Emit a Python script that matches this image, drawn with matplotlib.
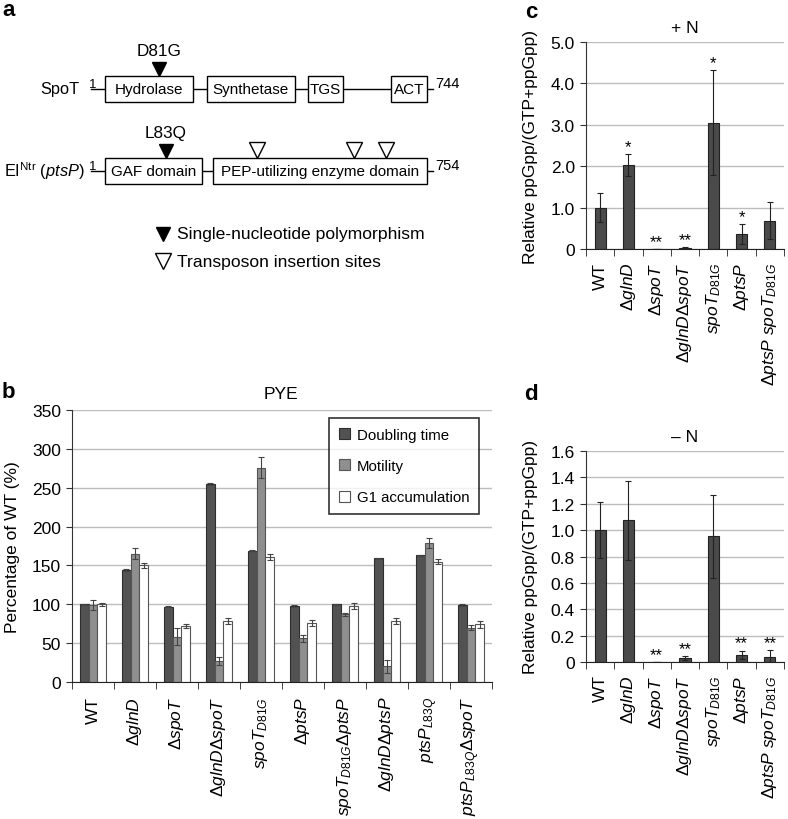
import numpy as np
import matplotlib
matplotlib.use('Agg')
import matplotlib.pyplot as plt
from matplotlib.patches import Rectangle

plt.rcParams['font.family'] = ['Liberation Sans', 'DejaVu Sans']
plt.rcParams['mathtext.fontset'] = 'custom'
plt.rcParams['mathtext.rm'] = 'Liberation Sans'
plt.rcParams['mathtext.it'] = 'Liberation Sans:italic'
plt.rcParams['mathtext.bf'] = 'Liberation Sans:bold'

# ---- panel a: domain schematic (positions in schematic residue units)
spot_len = 744
spot_domains = [('Hydrolase', 30, 222), ('Synthetase', 252, 444), ('TGS', 472, 548), ('ACT', 652, 732)]
spot_snp = [(148, 'D81G')]
ptsp_len = 754
ptsp_domains = [('GAF domain', 31, 245), ('PEP-utilizing enzyme domain', 269, 741)]
ptsp_snp = [(165, 'L83Q')]
ptsp_tn = [366, 580, 650]

# ---- panel b: PYE phenotypes (% of WT)
strains_b = ['WT', r'$\Delta\mathit{glnD}$', r'$\Delta\mathit{spoT}$',
             r'$\Delta\mathit{glnD}\Delta\mathit{spoT}$', r'$\mathit{spoT}_{\mathit{D81G}}$',
             r'$\Delta\mathit{ptsP}$', r'$\mathit{spoT}_{\mathit{D81G}}\Delta\mathit{ptsP}$',
             r'$\Delta\mathit{glnD}\Delta\mathit{ptsP}$', r'$\mathit{ptsP}_{\mathit{L83Q}}$',
             r'$\mathit{ptsP}_{\mathit{L83Q}}\Delta\mathit{spoT}$']
doubling = [100, 144, 97, 255, 169, 98, 100, 159, 163, 99]
doubling_err = [1, 1, 1, 1, 1, 1, 1, 1, 1, 1]
motility = [99, 165, 58, 27, 276, 56, 87, 20, 179, 70]
motility_err = [6, 7, 11, 5, 13, 4, 2, 8, 6, 3]
g1 = [100, 150, 72, 78, 161, 76, 98, 78, 155, 74]
g1_err = [2, 3, 3, 4, 4, 4, 4, 4, 3, 4]

# ---- panels c, d: relative ppGpp
strains_cd = ['WT', r'$\Delta\mathit{glnD}$', r'$\Delta\mathit{spoT}$',
              r'$\Delta\mathit{glnD}\Delta\mathit{spoT}$', r'$\mathit{spoT}_{\mathit{D81G}}$',
              r'$\Delta\mathit{ptsP}$', r'$\Delta\mathit{ptsP}\ \mathit{spoT}_{\mathit{D81G}}$']
ppgpp_plusN = [1.0, 2.03, 0.0, 0.03, 3.05, 0.36, 0.68]
ppgpp_plusN_err = [0.35, 0.26, 0.0, 0.02, 1.27, 0.24, 0.45]
stars_plusN = ['', '*', '**', '**', '*', '*', '']
ppgpp_minusN = [1.0, 1.075, 0.0, 0.028, 0.955, 0.053, 0.035]
ppgpp_minusN_err = [0.21, 0.30, 0.0, 0.015, 0.315, 0.033, 0.057]
stars_minusN = ['', '', '**', '**', '', '**', '**']

W, H = 788, 820
fig = plt.figure(figsize=(W / 100, H / 100), dpi=100)


def px_axes(left, top, right, bottom):
    return fig.add_axes([left / W, 1 - bottom / H, (right - left) / W, (bottom - top) / H])


# ================= panel a
ax_a = px_axes(0, 0, 480, 290)
ax_a.set_xlim(0, 480)
ax_a.set_ylim(290, 0)
ax_a.axis('off')
x0, x1 = 91, 433


def draw_protein(y, length, domains, name, name_gap, snps, tns):
    to_x = lambda aa: x0 + aa / length * (x1 - x0)
    ax_a.plot([to_x(0), to_x(length)], [y, y], color='black', lw=1, zorder=1)
    for label, s, e in domains:
        ax_a.add_patch(Rectangle((to_x(s), y - 13), to_x(e) - to_x(s), 26,
                                 facecolor='white', edgecolor='black', lw=1, zorder=2))
        ax_a.text((to_x(s) + to_x(e)) / 2, y + 0.5, label, ha='center', va='center', fontsize=11, zorder=3)
    ax_a.text(to_x(0) + 2, y - 2, '1', ha='center', va='baseline', fontsize=9.5)
    ax_a.text(to_x(length) + 2, y - 2, str(length), ha='left', va='baseline', fontsize=10.5)
    ax_a.text(to_x(0) - name_gap, y, name, ha='right', va='center', fontsize=11.8)
    for pos, lab in snps:
        ax_a.plot(to_x(pos), y - 20, marker='v', ms=10, color='black', mec='black')
        ax_a.text(to_x(pos), y - 38, lab, ha='center', va='center', fontsize=12.3)
    for pos in tns:
        ax_a.plot(to_x(pos), y - 21, marker='v', ms=11, mfc='white', mec='black', mew=1)


draw_protein(89.5, spot_len, spot_domains, 'SpoT', 12, spot_snp, [])
draw_protein(171.5, ptsp_len, ptsp_domains, r'EI$^{\mathrm{Ntr}}$ ($\mathit{ptsP}$)', 6, ptsp_snp, ptsp_tn)
ax_a.plot(163, 235, marker='v', ms=10, color='black')
ax_a.text(177, 235, 'Single-nucleotide polymorphism', ha='left', va='center', fontsize=12.6)
ax_a.plot(163, 262, marker='v', ms=11, mfc='white', mec='black', mew=1)
ax_a.text(177, 262, 'Transposon insertion sites', ha='left', va='center', fontsize=12.6)


def style_axes(ax):
    for s in ['top', 'right']:
        ax.spines[s].set_visible(False)
    ax.spines['left'].set_color('#333333')
    ax.spines['bottom'].set_color('#222222')
    ax.yaxis.grid(True, color='#bdbdbd', lw=1)
    ax.set_axisbelow(True)
    ax.tick_params(axis='y', length=4, direction='out', pad=4, labelsize=12.5, color='#333333')
    ax.tick_params(axis='x', which='major', length=0, labelsize=12.5, labelrotation=90)
    ax.tick_params(axis='x', which='minor', length=5, direction='out', color='#222222')


# ================= panel b
ax_b = px_axes(72, 411, 492, 683)
xb = np.arange(len(strains_b))
w = 0.21
ekw = dict(ecolor='#444444', elinewidth=0.8, capsize=2.5, capthick=0.8)
ax_b.bar(xb - w, doubling, w, yerr=doubling_err, color='#525252', edgecolor='#2e2e2e', lw=0.8,
         error_kw=ekw, label='Doubling time')
ax_b.bar(xb, motility, w, yerr=motility_err, color='#8f8f8f', edgecolor='#555555', lw=0.8,
         error_kw=ekw, label='Motility')
ax_b.bar(xb + w, g1, w, yerr=g1_err, color='white', edgecolor='#555555', lw=0.8,
         error_kw=ekw, label='G1 accumulation')
ax_b.set_xlim(-0.5, len(strains_b) - 0.5)
ax_b.set_ylim(0, 350)
ax_b.set_yticks(range(0, 351, 50))
ax_b.set_xticks(xb)
ax_b.set_xticklabels(strains_b)
ax_b.set_xticks(np.arange(-0.5, len(strains_b)), minor=True)
style_axes(ax_b)
ax_b.tick_params(axis='x', which='major', pad=10)
ax_b.set_ylabel('Percentage of WT (%)', fontsize=12.5)
ax_b.yaxis.set_label_coords((20 - 72) / 420, 0.5)
ax_b.text(0.498, 1.062, 'PYE', transform=ax_b.transAxes, ha='center', va='center', fontsize=12.5)
leg = ax_b.legend(loc='upper left', bbox_to_anchor=((329 - 72) / 420, (683 - 419) / 272),
                  fontsize=10.8, frameon=True, fancybox=False, edgecolor='black',
                  handlelength=0.75, handleheight=0.75, handletextpad=0.45, labelspacing=1.15,
                  borderpad=0.65, borderaxespad=0)
leg.get_frame().set_linewidth(1.2)

# ================= panels c, d
xc = np.arange(len(strains_cd))


def ppgpp_panel(ax, vals, errs, stars, ymax, step, title, fmt):
    ax.bar(xc, vals, 0.39, yerr=errs, color='#4a4a4a', edgecolor='#222222', lw=0.8,
           error_kw=dict(ecolor='#222222', elinewidth=0.8, capsize=2.5, capthick=0.8))
    for i, s in enumerate(stars):
        if s:
            ax.annotate(s, (xc[i], vals[i] + errs[i]), xytext=(0, 5.5), textcoords='offset points',
                        ha='center', va='center', fontsize=12)
    ax.set_xlim(-0.5, len(strains_cd) - 0.5)
    ax.set_ylim(0, ymax)
    ticks = np.arange(0, ymax + step / 2, step)
    ax.set_yticks(ticks)
    ax.set_yticklabels(['0'] + [fmt % t for t in ticks[1:]])
    ax.set_xticks(xc)
    ax.set_xticklabels(strains_cd)
    ax.set_xticks(np.arange(-0.5, len(strains_cd)), minor=True)
    style_axes(ax)
    ax.tick_params(axis='x', which='major', pad=9)
    ax.set_ylabel('Relative ppGpp/(GTP+ppGpp)', fontsize=12.5)
    ax.yaxis.set_label_coords((538 - 586) / 198, 0.5)
    ax.set_title(title, fontsize=12.5, pad=7)


ax_c = px_axes(586, 43, 784, 250)
ppgpp_panel(ax_c, ppgpp_plusN, ppgpp_plusN_err, stars_plusN, 5.0, 1.0, '+ N', '%.1f')
ax_d = px_axes(586, 452, 784, 663)
ppgpp_panel(ax_d, ppgpp_minusN, ppgpp_minusN_err, stars_minusN, 1.6, 0.2, '\u2013 N', '%.1f')

# panel letters
for lab, x, y in [('a', 9, 11), ('b', 8, 393), ('c', 531, 12), ('d', 531, 395)]:
    fig.text(x / W, 1 - y / H, lab, fontsize=16, fontweight='bold', ha='center', va='center')

fig.savefig('out.png', dpi=100)
